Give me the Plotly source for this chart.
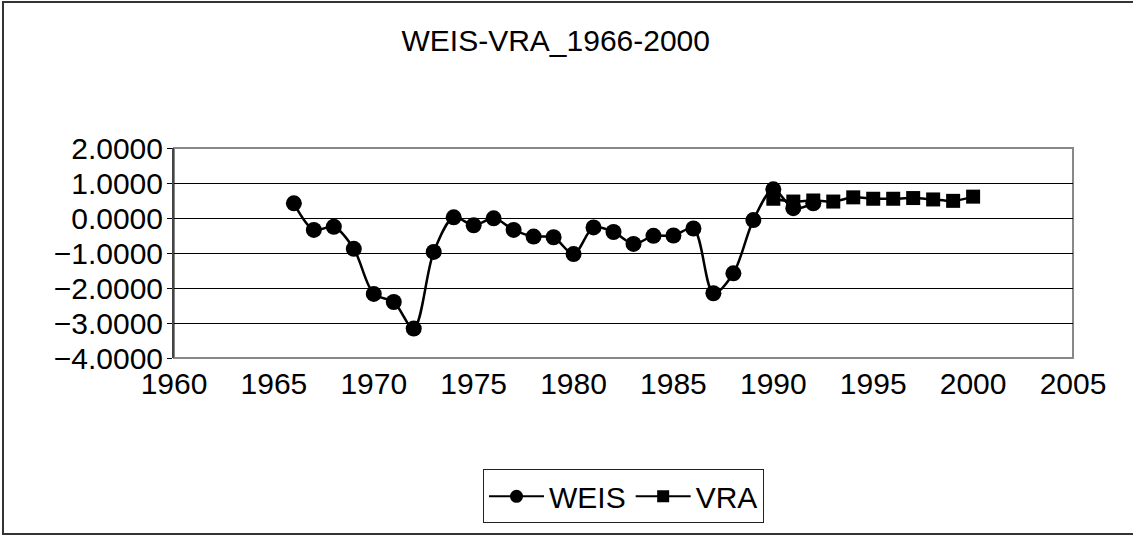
import plotly.graph_objects as go

weis_years = list(range(1966, 1993))
weis_values = [0.42, -0.34, -0.25, -0.88, -2.17, -2.40, -3.16, -0.97, 0.02, -0.21,
               -0.01, -0.34, -0.53, -0.55, -1.03, -0.27, -0.40, -0.74, -0.51, -0.50,
               -0.30, -2.15, -1.58, -0.06, 0.82, 0.28, 0.42]
vra_years = list(range(1990, 2001))
vra_values = [0.55, 0.47, 0.50, 0.47, 0.59, 0.55, 0.55, 0.57, 0.53, 0.49, 0.61]
x_ticks = list(range(1960, 2006, 5))
y_ticks = [2, 1, 0, -1, -2, -3, -4]
title_text = "WEIS-VRA_1966-2000"

FONT = "Liberation Sans, Arial, sans-serif"
FS = 30

fig = go.Figure()
fig.add_trace(go.Scatter(
    x=weis_years, y=weis_values, name="WEIS", mode="lines+markers", showlegend=False,
    line=dict(color="black", width=2.5, shape="spline", smoothing=0.9),
    marker=dict(symbol="circle", size=16, color="black"),
))
fig.add_trace(go.Scatter(
    x=vra_years, y=vra_values, name="VRA", mode="lines+markers", showlegend=False,
    line=dict(color="black", width=2.5, shape="spline", smoothing=0.9),
    marker=dict(symbol="square", size=14, color="black"),
))
# legend entries (no data drawn)
fig.add_trace(go.Scatter(
    x=[None], y=[None], name="WEIS", mode="lines+markers",
    line=dict(color="black", width=2), marker=dict(symbol="circle", size=13, color="black"),
))
fig.add_trace(go.Scatter(
    x=[None], y=[None], name="VRA", mode="lines+markers",
    line=dict(color="black", width=2), marker=dict(symbol="square", size=12, color="black"),
))

fig.update_layout(
    width=1133, height=536,
    margin=dict(l=174, r=60, t=148, b=178),
    paper_bgcolor="white", plot_bgcolor="white",
    font=dict(family=FONT, size=FS, color="black"),
    title=dict(text=title_text, x=0.4905, xanchor="center", y=1 - 40 / 536,
               yanchor="middle", font=dict(size=FS, family=FONT, color="black")),
    showlegend=True,
    legend=dict(orientation="h", x=0.5, xanchor="center", y=-0.53, yanchor="top",
                bordercolor="#222222", borderwidth=1, font=dict(size=FS, family=FONT),
                itemwidth=55),
    xaxis=dict(range=[1960, 2005], tickvals=x_ticks, showgrid=False, zeroline=False,
               showline=False, ticks="", ticklabelstandoff=5,
               tickfont=dict(size=FS, family=FONT)),
    xaxis2=dict(range=[1960, 2005], overlaying="x", anchor="free",
                position=4 / 6, tickvals=x_ticks, showticklabels=False,
                ticks="inside", ticklen=10, tickcolor="#333333", tickwidth=1,
                showline=True, linecolor="black", linewidth=1, showgrid=False,
                zeroline=False),
    yaxis=dict(range=[-4, 2], tickvals=y_ticks, tickformat=".4f", showgrid=True,
               gridcolor="black", gridwidth=1, zeroline=False, showline=True,
               linecolor="#444444", linewidth=2, ticks="outside", ticklen=5,
               tickcolor="black", ticklabelstandoff=-2,
               tickfont=dict(size=FS, family=FONT)),
    shapes=[
        dict(type="rect", xref="paper", yref="paper", x0=0, x1=1, y0=0, y1=1,
             line=dict(color="#888888", width=2), layer="below"),
        dict(type="rect", xref="paper", yref="paper",
             x0=(3 - 174) / 899, x1=(1160 - 174) / 899,
             y0=(358 - 534) / 210, y1=(358 - 2) / 210,
             line=dict(color="#333333", width=2)),
    ],
)

fig.write_html("out.html", config={"displayModeBar": False},
               post_script="document.body.style.margin='0px';")
